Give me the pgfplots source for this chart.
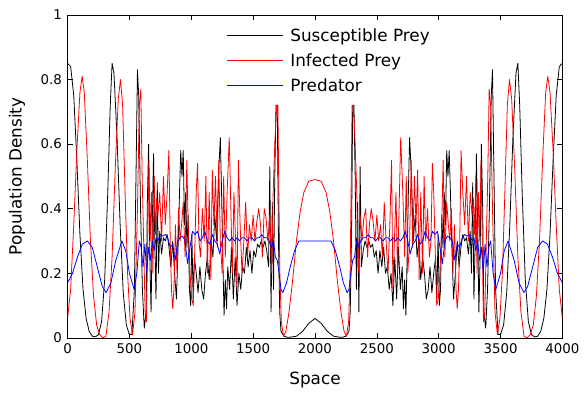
\documentclass[border=0pt]{standalone}
\usepackage{pgfplots}
\pgfplotsset{compat=1.18}
\usepackage{pgfplotstable}
\usepackage{fontspec}
\setmainfont{DejaVu Sans}
\definecolor{predblue}{rgb}{0,0,1}
\definecolor{infred}{rgb}{1,0,0}
\pgfplotstableread{
x y
0 0.85
25 0.84
50 0.75
75 0.55
100 0.32
125 0.15
150 0.06
175 0.02
200 0.005
225 0.003
250 0.01
275 0.05
300 0.18
325 0.45
345 0.72
360 0.85
375 0.82
400 0.62
425 0.35
450 0.14
475 0.04
500 0.01
520 0.01
540 0.15
555 0.55
565 0.83
575 0.75
590 0.4
605 0.15
620 0.03
635 0.08
645 0.42
655 0.60
665 0.25
675 0.08
685 0.35
695 0.57
705 0.3
715 0.12
725 0.48
735 0.2
745 0.33
760 0.26
775 0.31
790 0.3
805 0.32
820 0.28
835 0.22
850 0.3
865 0.2
880 0.12
895 0.3
905 0.45
915 0.58
925 0.5
935 0.58
945 0.35
955 0.45
965 0.28
975 0.38
985 0.15
995 0.1
1005 0.32
1015 0.12
1025 0.25
1040 0.2
1055 0.14
1070 0.22
1085 0.15
1100 0.12
1115 0.2
1130 0.25
1145 0.18
1160 0.3
1175 0.25
1190 0.38
1205 0.3
1220 0.5
1235 0.62
1245 0.45
1255 0.25
1265 0.07
1275 0.18
1285 0.09
1295 0.22
1310 0.15
1325 0.28
1340 0.12
1355 0.25
1370 0.1
1385 0.2
1400 0.15
1415 0.22
1430 0.2
1445 0.28
1460 0.22
1475 0.27
1490 0.2
1505 0.27
1520 0.25
1535 0.29
1550 0.28
1565 0.3
1580 0.28
1595 0.3
1610 0.27
1625 0.22
1635 0.53
1645 0.08
1655 0.42
1665 0.15
1675 0.5
1685 0.72
1695 0.72
1705 0.3
1715 0.08
1725 0.02
1750 0.005
1775 0.002
1800 0.002
1850 0.005
1900 0.02
1950 0.045
2000 0.06
}\susc
\pgfplotstableread{
x y
0 0.06
25 0.15
50 0.35
75 0.58
100 0.76
118 0.81
135 0.76
160 0.55
185 0.3
210 0.13
235 0.04
260 0.01
285 0.0
310 0.005
335 0.08
360 0.25
385 0.52
410 0.74
428 0.8
445 0.72
465 0.45
485 0.2
505 0.06
525 0.01
545 0.08
565 0.4
580 0.72
592 0.77
603 0.5
615 0.3
627 0.08
638 0.05
648 0.3
658 0.55
668 0.3
678 0.45
690 0.2
700 0.5
710 0.32
720 0.43
730 0.38
745 0.45
760 0.3
775 0.5
790 0.35
805 0.45
819 0.58
830 0.3
840 0.15
850 0.09
860 0.15
872 0.35
885 0.2
897 0.4
910 0.3
922 0.35
935 0.42
950 0.25
964 0.55
975 0.35
990 0.2
1003 0.12
1016 0.1
1030 0.3
1040 0.45
1051 0.54
1062 0.3
1075 0.25
1090 0.4
1105 0.3
1118 0.5
1130 0.2
1145 0.45
1158 0.18
1170 0.52
1183 0.35
1196 0.5
1210 0.28
1222 0.55
1235 0.3
1250 0.2
1262 0.5
1275 0.25
1290 0.45
1307 0.62
1320 0.4
1333 0.2
1345 0.45
1358 0.3
1370 0.15
1381 0.55
1395 0.35
1410 0.2
1425 0.3
1440 0.42
1455 0.25
1470 0.35
1485 0.3
1500 0.38
1515 0.3
1530 0.36
1545 0.4
1560 0.35
1575 0.25
1590 0.4
1605 0.37
1620 0.3
1635 0.38
1650 0.2
1662 0.45
1675 0.6
1690 0.72
1700 0.72
1708 0.45
1716 0.2
1728 0.05
1745 0.005
1765 0.02
1790 0.08
1820 0.18
1850 0.3
1880 0.39
1910 0.45
1950 0.485
2000 0.49
}\infe
\pgfplotstableread{
x y
0 0.17
40 0.2
80 0.25
120 0.29
160 0.3
200 0.28
240 0.22
280 0.16
311 0.14
350 0.17
390 0.24
439 0.3
470 0.27
500 0.2
538 0.15
560 0.2
580 0.3
595 0.28
610 0.22
625 0.29
640 0.2
655 0.28
670 0.24
685 0.3
700 0.27
715 0.31
730 0.3
750 0.32
770 0.315
790 0.32
810 0.31
830 0.28
850 0.29
870 0.24
890 0.3
910 0.31
930 0.315
950 0.3
970 0.23
990 0.28
1010 0.33
1030 0.32
1050 0.33
1070 0.3
1090 0.31
1110 0.33
1130 0.3
1150 0.29
1170 0.32
1190 0.3
1210 0.29
1230 0.26
1250 0.3
1270 0.33
1290 0.31
1310 0.3
1330 0.31
1350 0.3
1370 0.31
1390 0.3
1410 0.31
1430 0.31
1450 0.3
1470 0.31
1490 0.31
1510 0.3
1530 0.31
1550 0.31
1570 0.32
1590 0.31
1610 0.31
1630 0.3
1650 0.28
1665 0.3
1680 0.25
1695 0.24
1710 0.2
1725 0.15
1740 0.14
1770 0.17
1800 0.22
1835 0.27
1870 0.3
1900 0.3
2000 0.3
}\pred
\begin{document}
\fontsize{17}{20}\selectfont
\begin{tikzpicture}
\begin{axis}[
  name=ax,
  scale only axis,
  width=498bp, height=325bp,
  xmin=0, xmax=4000, ymin=0, ymax=1,
  xtick={0,500,...,4000},
  ytick={0,0.2,0.4,0.6,0.8,1},
  tick align=inside,
  major tick length=5bp,
  tick style={black, line width=0.5pt},
  axis line style={line width=0.6pt},
  /pgf/number format/assume math mode=true,
  scaled x ticks=false,
  xticklabel style={/pgf/number format/set thousands separator={}},
  tick label style={font=\fontsize{13.5}{16}\selectfont},
  label style={font=\fontsize{17}{20}\selectfont},
  xlabel={Space},
  ylabel={Population Density},
  xlabel style={yshift=-7bp},
  ylabel style={yshift=4bp},
  every axis plot/.append style={line width=0.8pt, line join=round},
]
\addplot[black] table[x expr=4000-\thisrow{x}, y=y] {\susc};
\addplot[infred] table[x expr=4000-\thisrow{x}, y=y] {\infe};
\addplot[predblue] table[x expr=4000-\thisrow{x}, y=y] {\pred};
\addplot[black] table[x=x,y=y] {\susc};
\addplot[infred] table[x=x,y=y] {\infe};
\addplot[predblue] table[x=x,y=y] {\pred};
\end{axis}
% legend drawn as thin filled bars and text
\begin{scope}[shift={(ax.north west)}]
\fill[predblue] (160bp,-71.6bp) rectangle (217bp,-70.4bp);
\fill[infred] (160bp,-46.6bp) rectangle (217bp,-45.4bp);
\fill[black] (160bp,-21.6bp) rectangle (217bp,-20.4bp);
\node[anchor=base west, inner sep=0pt, font=\fontsize{17}{20}\selectfont] at (224bp,-27bp) {Susceptible Prey};
\node[anchor=base west, inner sep=0pt, font=\fontsize{17}{20}\selectfont] at (224bp,-52bp) {Infected Prey};
\node[anchor=base west, inner sep=0pt, font=\fontsize{17}{20}\selectfont] at (224bp,-77bp) {Predator};
\end{scope}
\path (ax.south west) ++(-68bp,-53bp) coordinate (bbA);
\path (ax.north east) ++(19bp,15bp) coordinate (bbB);
\path (bbA) rectangle (bbB);
\end{tikzpicture}
\end{document}
